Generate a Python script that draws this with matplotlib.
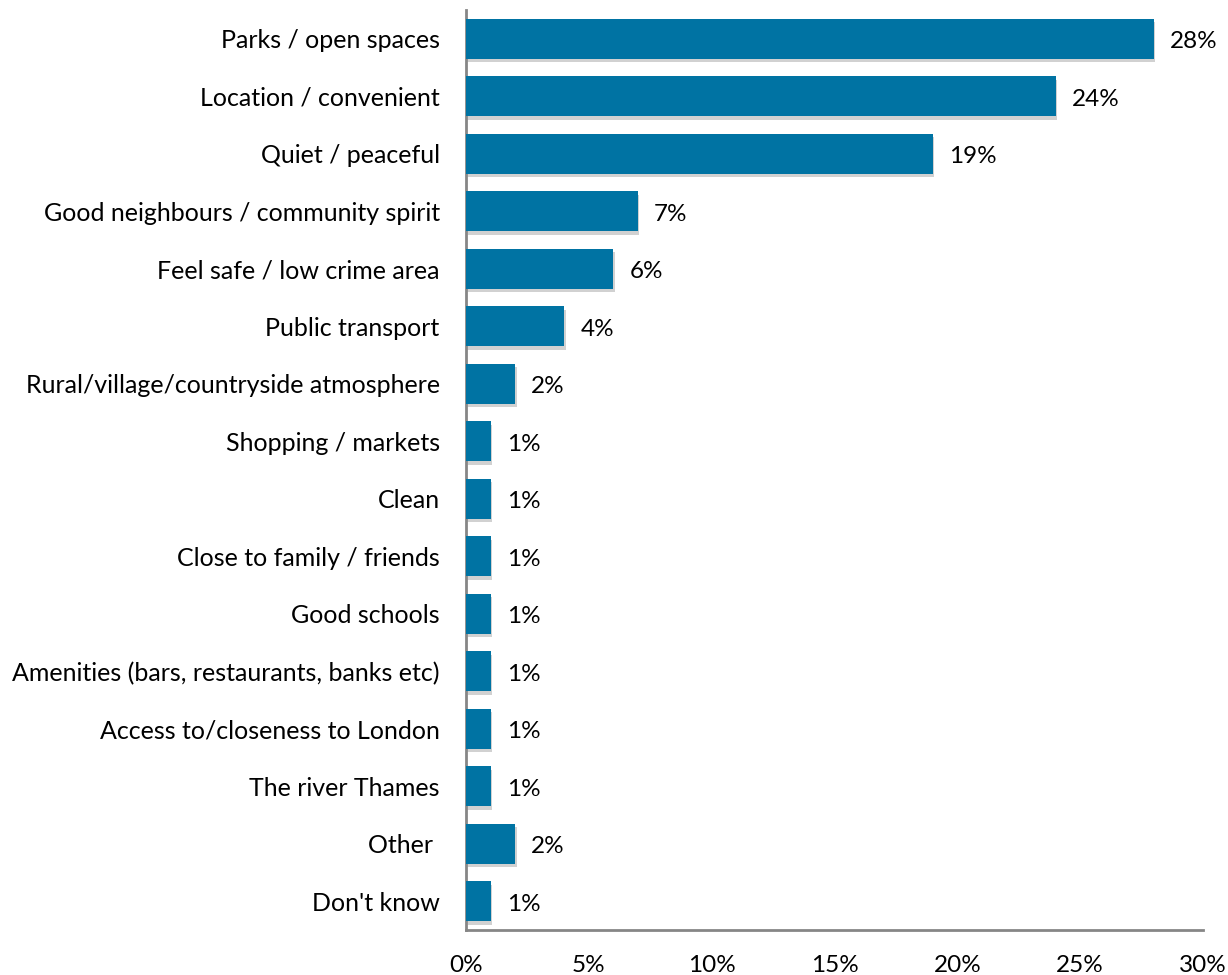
import matplotlib
matplotlib.use("Agg")
import matplotlib.pyplot as plt
import matplotlib.patheffects as pe
from matplotlib.ticker import FuncFormatter, MultipleLocator

categories = [
    "Parks / open spaces",
    "Location / convenient",
    "Quiet / peaceful",
    "Good neighbours / community spirit",
    "Feel safe / low crime area",
    "Public transport",
    "Rural/village/countryside atmosphere",
    "Shopping / markets",
    "Clean",
    "Close to family / friends",
    "Good schools",
    "Amenities (bars, restaurants, banks etc)",
    "Access to/closeness to London",
    "The river Thames",
    "Other ",
    "Don't know",
]
values = [28, 24, 19, 7, 6, 4, 2, 1, 1, 1, 1, 1, 1, 1, 2, 1]

plt.rcParams["font.family"] = ["Lato", "DejaVu Sans"]
FS = 18

fig = plt.figure(figsize=(12.28, 9.75), dpi=100)
ax = fig.add_axes([0.3795, 0.0462, 0.6001, 0.9435])

y = list(range(len(categories)))
bars = ax.barh(y, values, height=0.7, color="#0073A3", edgecolor="none", zorder=3)
for b in bars:
    b.set_path_effects([pe.SimplePatchShadow(offset=(1, -2.5), shadow_rgbFace="#8c8c8c", alpha=0.4),
                        pe.Normal()])

for yi, v in zip(y, values):
    ax.text(v + 0.65, yi + 0.05, f"{v}%", va="center", ha="left", fontsize=17.5, color="black")

ax.set_ylim(len(categories) - 0.5, -0.5)
ax.set_xlim(0, 30)
ax.xaxis.set_major_locator(MultipleLocator(5))
ax.xaxis.set_major_formatter(FuncFormatter(lambda v, _: f"{v:.0f}%"))
ax.set_yticks(y)
ax.set_yticklabels(categories)
ax.tick_params(axis="both", length=0, labelsize=FS, colors="black")
ax.tick_params(axis="x", labelsize=17.5)
ax.tick_params(axis="y", pad=19)
ax.tick_params(axis="x", pad=18)

for s in ["top", "right"]:
    ax.spines[s].set_visible(False)
for s in ["left", "bottom"]:
    ax.spines[s].set_color("#868686")
    ax.spines[s].set_linewidth(2)

fig.savefig("out.png", dpi=100)
